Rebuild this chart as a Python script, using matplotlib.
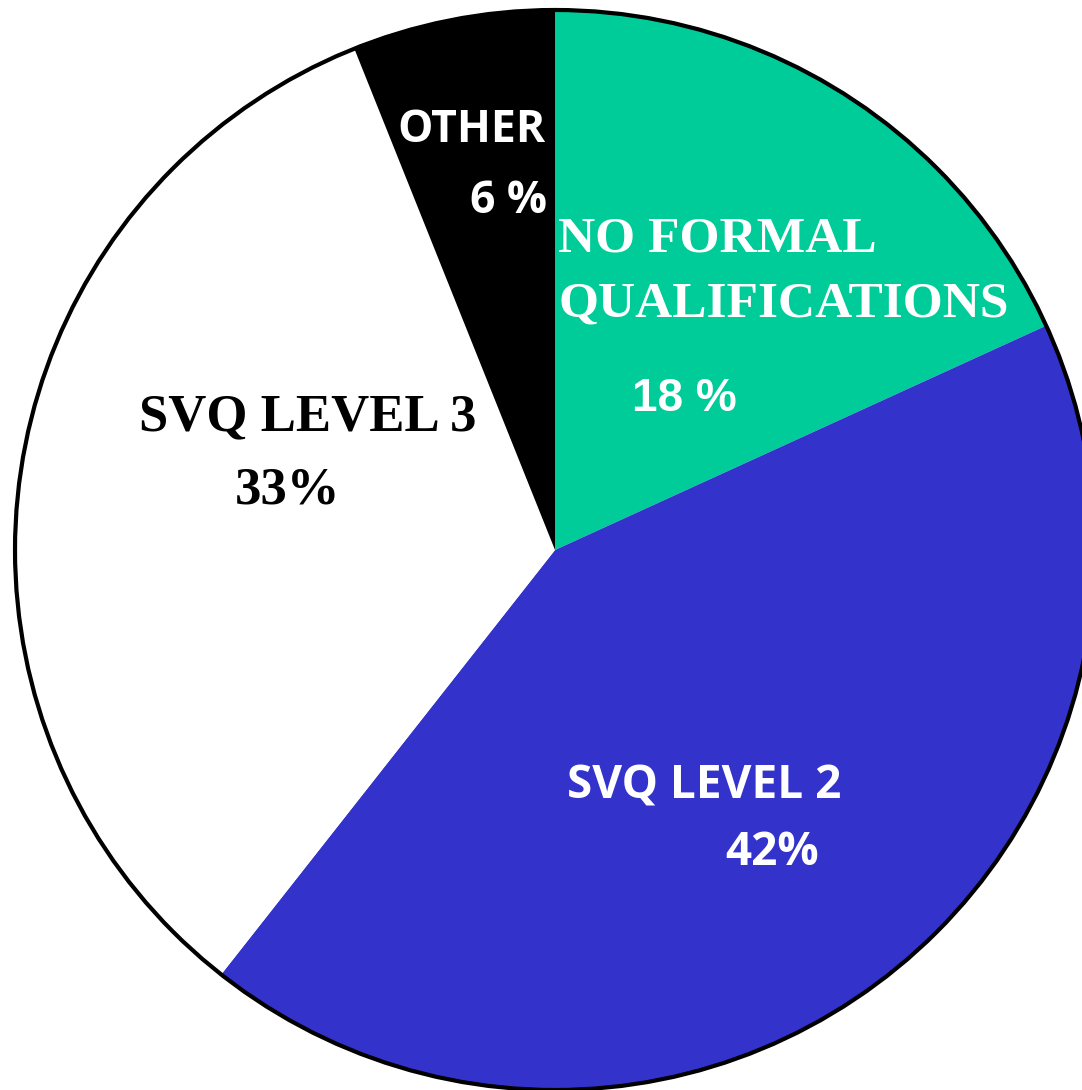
import matplotlib
matplotlib.use("Agg")
import matplotlib.pyplot as plt
from matplotlib.patches import Circle

# Qualification shares (clockwise from top)
categories = ["NO FORMAL QUALIFICATIONS", "SVQ LEVEL 2", "SVQ LEVEL 3", "OTHER"]
shares = [18, 42, 33, 6]
share_labels = ["18 %", "42%", "33%", "6 %"]
colors = ["#00CC99", "#3333CC", "#FFFFFF", "#000000"]

fig = plt.figure(figsize=(10.82, 10.90), dpi=100)
ax = fig.add_axes([0, 0, 1, 1])

ax.pie(shares, colors=colors, startangle=90, counterclock=False,
       radius=1.0, wedgeprops=dict(linewidth=0))

# Outer outline of the pie
ax.add_patch(Circle((0, 0), 1.0, fill=False, edgecolor="black", linewidth=3.0, zorder=5))

# Pie sits in the frame with its right edge clipped
ax.set_xlim(-1.0278, 0.9759)
ax.set_ylim(-1.0, 1.0185)
ax.set_aspect("equal")
ax.axis("off")

serif = "Liberation Serif"
sans = "Open Sans"

# OTHER
ax.text(-0.0167, 0.7556, categories[3], ha="right", va="baseline",
        fontsize=32, fontweight="bold", family=sans, color="white")
ax.text(-0.0148, 0.624, share_labels[3], ha="right", va="baseline",
        fontsize=32, fontweight="bold", family=sans, color="white")

# NO FORMAL QUALIFICATIONS
ax.text(0.0056, 0.5519, "NO FORMAL", ha="left", va="baseline",
        fontsize=37, fontweight="bold", family=serif, color="white")
ax.text(0.0056, 0.4315, "QUALIFICATIONS", ha="left", va="baseline",
        fontsize=37, fontweight="bold", family=serif, color="white")
ax.text(0.2389, 0.2574, share_labels[0], ha="center", va="baseline",
        fontsize=33, fontweight="bold", family="Liberation Sans", color="white")

# SVQ LEVEL 3
ax.text(-0.7704, 0.2222, categories[2], ha="left", va="baseline",
        fontsize=38, fontweight="bold", family=serif, color="black")
ax.text(-0.5926, 0.0870, share_labels[2], ha="left", va="baseline",
        fontsize=38, fontweight="bold", family=serif, color="black")

# SVQ LEVEL 2
ax.text(0.0222, -0.4593, categories[1], ha="left", va="baseline",
        fontsize=33, fontweight="bold", family=sans, color="white")
ax.text(0.3148, -0.5833, share_labels[1], ha="left", va="baseline",
        fontsize=33, fontweight="bold", family=sans, color="white")

fig.savefig("out.png", dpi=100)
